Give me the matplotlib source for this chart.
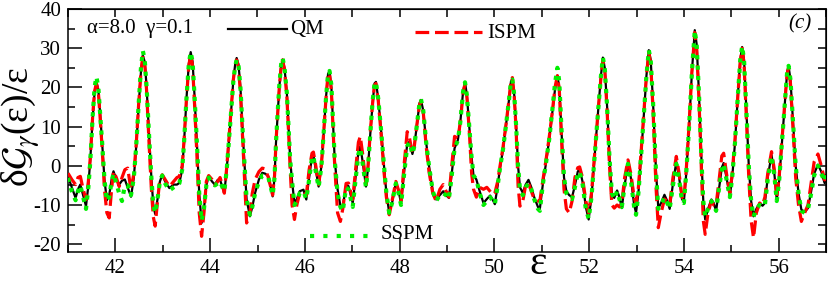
import matplotlib
matplotlib.use("Agg")
import matplotlib.pyplot as plt
import numpy as np

plt.rcParams["font.family"] = ["Liberation Serif", "DejaVu Serif"]
plt.rcParams["mathtext.fontset"] = "stix"
plt.rcParams["axes.unicode_minus"] = False

# energy grid (feature points, one line per peak/valley segment)
eps = [
    41.00, 41.08, 41.16, 41.21, 41.26, 41.32, 41.38,
    41.43, 41.47, 41.52, 41.56, 41.60, 41.64, 41.68, 41.72, 41.77,
    41.82, 41.87, 41.92, 41.96, 42.02, 42.08, 42.14, 42.20, 42.26, 42.33, 42.39,
    42.44, 42.49, 42.54, 42.58, 42.62, 42.66, 42.71, 42.76, 42.80,
    42.84, 42.89, 42.94, 42.99, 43.05, 43.14, 43.23, 43.30, 43.35, 43.41,
    43.45, 43.50, 43.55, 43.59, 43.63, 43.67, 43.72, 43.77,
    43.82, 43.87, 43.92, 43.97, 44.04, 44.10, 44.16, 44.21, 44.26, 44.30,
    44.35, 44.42, 44.49, 44.53, 44.56, 44.60, 44.64, 44.70, 44.77,
    44.84, 44.89, 44.95, 45.03, 45.10, 45.16, 45.23, 45.32,
    45.36, 45.39, 45.43, 45.46, 45.50, 45.53, 45.57, 45.62, 45.66, 45.69, 45.73,
    45.78, 45.83, 45.89, 45.97, 46.03, 46.09, 46.15, 46.18, 46.23, 46.29, 46.35,
    46.40, 46.45, 46.49, 46.52, 46.56, 46.63, 46.69,
    46.75, 46.80, 46.87, 46.92, 47.01, 47.07, 47.13, 47.17, 47.22, 47.29,
    47.33, 47.38, 47.43, 47.47, 47.50, 47.55, 47.62, 47.67, 47.72,
    47.78, 47.84, 47.92, 47.97, 48.03, 48.10, 48.16, 48.21, 48.27, 48.31,
    48.37, 48.42, 48.45, 48.50, 48.56, 48.62, 48.70,
    48.77, 48.85, 48.92, 48.98, 49.04, 49.10,
    49.16, 49.23, 49.28, 49.34, 49.38, 49.42, 49.47, 49.52, 49.56,
    49.62, 49.69, 49.77, 49.84, 49.91, 49.97, 50.01,
    50.07, 50.12, 50.18, 50.25, 50.31, 50.35, 50.38, 50.42, 50.46, 50.50,
    50.54, 50.60, 50.66, 50.72, 50.78, 50.84, 50.92, 50.96,
    51.02, 51.09, 51.16, 51.23, 51.28, 51.33, 51.37, 51.42, 51.47,
    51.52, 51.58, 51.64, 51.70, 51.76, 51.80, 51.86, 51.93, 51.99,
    52.05, 52.12, 52.19, 52.25, 52.29, 52.33, 52.38, 52.43, 52.48,
    52.53, 52.59, 52.64, 52.69, 52.75, 52.82, 52.88, 52.95, 52.99,
    53.04, 53.10, 53.16, 53.21, 53.26, 53.30, 53.35, 53.41,
    53.46, 53.52, 53.59, 53.65, 53.70, 53.77, 53.84, 53.90, 53.96, 54.00,
    54.05, 54.11, 54.17, 54.23, 54.27, 54.32, 54.37, 54.41,
    54.45, 54.51, 54.58, 54.63, 54.68, 54.74, 54.80, 54.84, 54.90, 54.97,
    55.02, 55.08, 55.14, 55.19, 55.23, 55.27, 55.32, 55.37, 55.42,
    55.47, 55.53, 55.60, 55.66, 55.71, 55.77, 55.85, 55.91, 55.96,
    56.01, 56.07, 56.13, 56.18, 56.21, 56.25, 56.30, 56.36, 56.42,
    56.48, 56.55, 56.62, 56.68, 56.75, 56.83, 56.90, 56.97, 57.00,
]

qm = [
    -2.7, -5.5, -8.2, -6.0, -4.8, -7.5, -10.3,
    -5.0, 1.5, 12.0, 18.5, 21.2, 19.5, 13.0, 6.0, -3.6,
    -8.8, -7.5, -3.5, -1.4, -3.5, -4.8, -3.8, -3.5, -5.5, -7.9, -3.0,
    5.0, 15.0, 24.0, 28.2, 26.5, 20.0, 8.0, -3.0, -10.0,
    -12.3, -8.5, -4.0, -2.3, -4.0, -5.7, -4.8, -4.8, -4.4, -1.0,
    6.0, 17.0, 26.0, 29.0, 26.5, 18.0, 6.0, -7.0,
    -14.6, -11.0, -5.0, -2.7, -4.0, -4.8, -3.6, -3.6, -5.5, -6.9,
    -1.0, 10.0, 21.9, 26.0, 27.5, 25.8, 20.0, 5.8, -8.6,
    -12.9, -10.5, -6.9, -3.5, -1.8, -2.0, -2.7, -7.8,
    -3.0, 5.8, 14.0, 20.0, 25.5, 27.1, 25.0, 18.5, 9.0, 1.5, -4.0,
    -9.6, -8.5, -6.5, -6.1, -8.6, -3.0, 2.4, 2.8, -1.0, -5.3, 0.0,
    9.0, 18.0, 23.5, 24.0, 20.0, 1.5, -6.0,
    -10.2, -10.5, -5.0, -5.2, -9.5, -3.0, 3.5, 5.0, 1.0, -5.3,
    -1.0, 8.0, 16.0, 21.0, 21.4, 17.0, 7.5, 0.0, -6.9,
    -12.0, -9.5, -4.4, -6.0, -9.5, -1.0, 5.5, 6.2, 3.0, 5.0,
    11.0, 16.0, 16.8, 14.0, 6.0, 0.0, -6.5,
    -8.6, -7.5, -6.5, -7.5, -8.2, -2.0,
    4.5, 6.6, 11.0, 19.0, 21.3, 18.0, 10.0, 2.0, -2.5,
    -3.5, -6.5, -9.5, -8.5, -7.6, -8.8, -9.8,
    -5.0, -0.5, 4.0, 10.8, 17.0, 21.5, 22.3, 18.0, 10.0, 0.0,
    -5.5, -6.9, -4.8, -3.6, -5.5, -8.0, -10.5, -11.0,
    -5.0, 0.7, 7.0, 14.2, 19.5, 23.0, 20.0, 8.0, -3.0,
    -6.5, -7.5, -8.0, -5.0, -1.5, -0.8, -4.0, -10.5, -13.7,
    -8.0, 3.0, 14.0, 23.0, 27.6, 25.0, 15.0, 2.0, -7.0,
    -8.2, -6.3, -8.0, -10.8, -5.0, 0.8, -3.0, -10.0, -12.0,
    -7.0, 3.0, 14.0, 23.0, 29.5, 27.0, 16.0, -1.0,
    -10.8, -9.5, -7.4, -9.0, -11.0, -4.5, 1.0, -3.0, -8.5, -9.2,
    -2.0, 10.0, 24.0, 34.6, 31.0, 18.0, 2.0, -9.0,
    -13.7, -11.0, -8.6, -9.5, -11.6, -6.0, -0.5, 0.7, -3.0, -7.8,
    -3.0, 6.0, 18.0, 27.0, 30.3, 27.0, 14.0, 0.0, -9.0,
    -12.9, -11.0, -9.5, -10.2, -9.5, -3.0, 2.8, -2.0, -8.6,
    -4.0, 6.0, 16.0, 24.0, 25.4, 22.0, 12.0, 0.0, -7.0,
    -11.2, -11.8, -10.8, -7.0, -2.0, 0.3, -1.5, -4.4, -2.5,
]

ispm = [
    -1.9, -3.5, -4.8, -3.0, -2.7, -6.0, -8.6,
    -4.0, 2.0, 12.5, 19.0, 21.0, 19.0, 12.0, 4.5, -6.0,
    -12.0, -13.3, -6.0, -1.4, -3.0, -5.3, -3.0, -1.0, -0.6, -6.1, -2.0,
    5.5, 15.5, 24.0, 28.0, 26.0, 19.0, 6.0, -6.0, -13.0,
    -15.4, -9.0, -3.5, -2.3, -3.5, -5.3, -4.0, -3.0, -2.7, 0.0,
    6.5, 17.0, 25.5, 28.5, 25.5, 16.0, 3.0, -12.0,
    -18.0, -12.0, -4.0, -2.5, -3.5, -5.0, -4.0, -3.0, -5.0, -7.0,
    -0.5, 10.5, 22.0, 25.5, 27.0, 25.0, 18.5, 3.5, -14.6,
    -12.0, -7.0, -3.5, -1.5, -0.6, -0.8, -3.0, -7.5,
    -2.5, 6.0, 14.0, 20.0, 25.5, 27.0, 24.5, 17.5, 7.5, -1.0, -10.0,
    -13.7, -10.0, -7.0, -6.5, -7.5, -1.0, 3.2, 3.5, 0.0, -4.8, 0.5,
    9.0, 18.0, 23.5, 23.5, 19.0, 0.0, -12.0,
    -14.2, -11.0, -4.5, -4.4, -8.6, -1.0, 6.0, 7.5, 3.0, -4.8,
    -0.5, 8.5, 16.0, 20.5, 21.0, 16.5, 6.5, -1.5, -8.0,
    -12.5, -9.0, -4.0, -6.0, -9.0, 1.0, 8.7, 7.0, 3.0, 5.0,
    11.0, 15.5, 16.5, 13.5, 5.0, -1.5, -7.0,
    -9.0, -6.0, -4.8, -6.5, -8.0, 0.0,
    7.5, 7.0, 11.0, 18.5, 21.0, 17.5, 9.0, -2.0, -6.0,
    -8.0, -5.5, -6.0, -5.5, -6.5, -7.4, -7.0,
    -4.0, 0.0, 4.5, 11.0, 17.0, 21.5, 22.5, 17.5, 9.0, -5.0,
    -10.3, -9.0, -5.0, -4.4, -6.5, -8.5, -9.0, -9.0,
    -4.0, 1.5, 7.5, 14.5, 20.0, 23.0, 19.5, 6.0, -6.0,
    -11.0, -12.0, -9.0, -3.0, -0.5, -0.3, -3.0, -9.0, -12.0,
    -7.0, 3.5, 14.0, 22.5, 27.0, 24.5, 14.0, 0.0, -10.0,
    -10.8, -10.0, -10.5, -9.5, -3.0, 1.5, -2.0, -8.0, -9.5,
    -5.5, 4.0, 14.5, 23.0, 29.0, 26.0, 14.0, -5.0,
    -15.8, -12.0, -8.5, -9.0, -10.0, -3.0, 2.4, -2.0, -8.0, -8.5,
    -1.0, 10.5, 24.0, 34.0, 30.0, 16.5, -1.0, -14.0,
    -17.5, -12.0, -9.0, -10.0, -10.0, -4.0, 2.5, 3.2, -2.0, -7.0,
    -2.0, 7.0, 18.0, 26.5, 30.0, 26.0, 12.0, -3.0, -14.0,
    -18.4, -12.0, -9.5, -10.0, -8.0, -2.0, 3.6, -1.0, -8.0,
    -3.0, 6.5, 16.0, 23.5, 25.0, 21.0, 10.0, -3.0, -10.0,
    -14.2, -12.0, -10.0, -5.0, 1.0, 3.0, 0.0, -3.6, -3.0,
]

sspm = [
    -3.1, -6.5, -8.8, -6.5, -5.0, -8.0, -11.0,
    -5.5, 1.0, 12.5, 20.0, 22.7, 20.0, 13.0, 6.0, -3.5,
    -9.0, -8.0, -4.0, -2.0, -4.5, -7.0, -9.0, -5.0, -5.0, -7.5, -3.0,
    5.0, 15.5, 25.0, 29.3, 27.0, 20.0, 8.0, -3.0, -10.0,
    -12.0, -8.5, -4.0, -2.5, -4.5, -6.3, -5.5, -5.0, -4.5, -1.0,
    6.0, 17.0, 26.0, 29.0, 26.5, 18.0, 6.0, -7.0,
    -14.0, -11.0, -5.0, -3.0, -4.5, -5.0, -4.5, -4.0, -5.5, -6.5,
    -1.0, 10.0, 21.5, 25.5, 27.0, 25.5, 20.0, 5.8, -8.6,
    -12.5, -10.5, -7.0, -4.0, -2.5, -2.5, -3.0, -7.5,
    -3.0, 5.8, 14.5, 20.5, 26.0, 27.5, 25.0, 18.5, 9.0, 1.5, -4.0,
    -10.0, -9.0, -7.0, -6.5, -8.5, -3.5, 2.0, 2.5, -1.5, -5.5, 0.0,
    9.0, 18.0, 23.5, 24.2, 20.5, 1.5, -7.0,
    -10.5, -11.6, -5.5, -6.0, -10.5, -3.5, 3.0, 4.5, 0.5, -5.5,
    -1.0, 8.0, 16.5, 21.0, 21.4, 17.0, 7.5, 0.0, -6.9,
    -12.0, -9.5, -4.5, -6.5, -10.0, -1.5, 5.0, 6.0, 3.0, 5.0,
    11.0, 16.0, 17.0, 14.0, 6.0, 0.0, -6.5,
    -9.0, -7.5, -7.0, -7.5, -8.5, -2.5,
    4.5, 6.5, 11.0, 19.0, 21.3, 18.0, 10.0, 2.0, -2.5,
    -3.5, -7.0, -10.0, -9.0, -8.0, -9.0, -9.8,
    -5.0, -0.5, 4.0, 10.8, 17.0, 21.5, 22.0, 18.0, 10.0, 0.0,
    -6.0, -7.5, -5.5, -4.5, -6.0, -8.5, -11.0, -11.5,
    -5.0, 0.7, 7.0, 15.0, 21.0, 25.0, 21.5, 8.5, -3.0,
    -7.0, -8.0, -8.5, -5.5, -2.0, -1.5, -4.5, -11.0, -13.5,
    -8.0, 3.0, 14.0, 23.0, 27.6, 25.0, 15.0, 2.0, -7.0,
    -8.5, -6.5, -8.5, -10.5, -5.0, 0.5, -3.5, -10.5, -12.5,
    -7.0, 3.0, 14.0, 23.0, 29.5, 27.0, 16.0, -1.0,
    -11.0, -10.0, -8.0, -9.5, -11.0, -5.0, 0.5, -3.5, -9.0, -9.5,
    -2.0, 10.0, 24.0, 34.5, 31.0, 18.0, 2.0, -9.0,
    -13.0, -11.0, -9.0, -10.0, -11.5, -6.0, -1.0, 0.5, -3.5, -8.0,
    -3.0, 6.0, 18.0, 27.0, 30.5, 27.0, 14.0, 0.0, -9.0,
    -13.0, -11.0, -10.0, -10.5, -10.0, -3.5, 2.5, -2.5, -9.0,
    -4.0, 6.0, 16.0, 24.0, 25.5, 22.0, 12.0, 0.0, -7.0,
    -11.5, -12.0, -11.0, -7.5, -2.5, 0.0, -2.0, -4.0, -2.0,
]

fig = plt.figure(figsize=(8.3, 2.82), dpi=100)
ax = fig.add_axes([68 / 830, 1 - 252 / 282, 758 / 830, 243 / 282])

ax.plot(eps, qm, color="black", lw=1.6, zorder=3)
ax.plot(eps, ispm, color="#ff0000", lw=2.3, dashes=(4.3, 1.8), zorder=4)
ax.plot(eps, sspm, color="#00ee00", lw=3.0, dashes=(1.0, 1.5), zorder=5)

ax.set_xlim(41, 57)
ax.set_ylim(-22, 40)

# ticks: bottom/left with labels, plain inward ticks on top/right
ax.set_xticks(np.arange(42, 57, 2))
ax.set_xticks(np.arange(41, 58, 1), minor=True)
ax.set_yticks(np.arange(-20, 41, 10))
ax.set_yticks(np.arange(-20, 41, 5), minor=True)
ax.tick_params(which="major", direction="in", length=10, width=1.1, labelsize=15, pad=5)
ax.tick_params(which="minor", direction="in", length=5, width=1.1)
for s in ax.spines.values():
    s.set_linewidth(1.1)

top = ax.secondary_xaxis("top")
top.set_xticks(np.arange(41, 58, 1))
top.set_xticklabels([])
top.tick_params(direction="in", length=6, width=1.1)
right = ax.secondary_yaxis("right")
right.set_yticks(np.arange(-20, 41, 5))
right.set_yticklabels([])
right.tick_params(direction="in", length=6, width=1.1)

# axis titles
fig.text(21 / 830, 1 - 127 / 282, "δ" + r"$\mathcal{G}_{\gamma}$" + "(ε)/ε",
         fontsize=27, rotation=90, ha="center", va="center")
fig.text(538 / 830, 1 - 264 / 282, "ε", fontsize=30, ha="center", va="center")

# legend pieces placed like the original
ax.text(0.025, 0.918, "α=8.0  γ=0.1", transform=ax.transAxes, fontsize=15, va="center")
ax.plot([0.211, 0.289], [0.918, 0.918], transform=ax.transAxes, color="black", lw=1.6)
ax.text(0.293, 0.914, "QM", transform=ax.transAxes, fontsize=15, va="center")
ax.plot([0.458, 0.546], [0.905, 0.905], transform=ax.transAxes, color="#ff0000", lw=2.3, dashes=(4.3, 1.8))
ax.text(0.553, 0.901, "ISPM", transform=ax.transAxes, fontsize=15, va="center")
ax.plot([0.319, 0.396], [0.066, 0.066], transform=ax.transAxes, color="#00ee00", lw=3.0, dashes=(1.0, 2.2))
ax.text(0.412, 0.07, "SSPM", transform=ax.transAxes, fontsize=15, va="center")
ax.text(0.966, 0.938, "(c)", transform=ax.transAxes, fontsize=15, style="italic",
        ha="center", va="center")

fig.savefig("out.png", dpi=100)
